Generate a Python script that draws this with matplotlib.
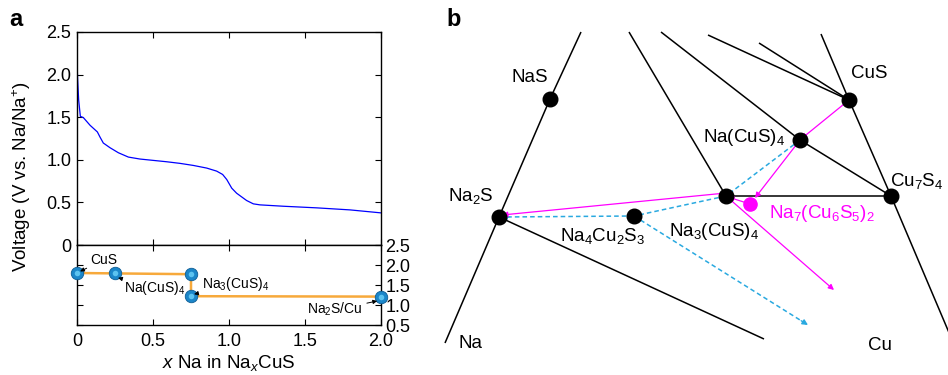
import numpy as np
import matplotlib
matplotlib.use("Agg")
import matplotlib.pyplot as plt

plt.rcParams['font.family'] = ['Liberation Sans', 'DejaVu Sans']
plt.rcParams['mathtext.fontset'] = 'custom'
plt.rcParams['mathtext.rm'] = 'Liberation Sans'
plt.rcParams['mathtext.it'] = 'Liberation Sans:italic'

# ---- panel a data ----
x_curve = [0, 0.004, 0.011, 0.022, 0.042, 0.086, 0.134, 0.151, 0.173, 0.217, 0.272,
           0.338, 0.414, 0.502, 0.59, 0.678, 0.765, 0.853, 0.919, 0.958, 0.985,
           1.018, 1.05, 1.116, 1.16, 1.204, 1.357, 1.577, 1.796, 2.0]
v_curve = [2.15, 1.95, 1.70, 1.51, 1.495, 1.405, 1.327, 1.268, 1.197, 1.142, 1.083,
           1.032, 1.009, 0.993, 0.977, 0.958, 0.934, 0.903, 0.867, 0.828, 0.769,
           0.667, 0.608, 0.522, 0.483, 0.471, 0.455, 0.436, 0.412, 0.377]

x_hull = [0, 0.25, 0.75, 0.75, 2.0]
v_hull = [1.80, 1.79, 1.77, 1.22, 1.21]

hull_labels = [r'CuS', r'Na(CuS)$_4$', r'Na$_3$(CuS)$_4$', r'Na$_2$S/Cu']
hull_label_xy = [(0.09, 2.13), (0.31, 1.43), (0.82, 1.52), (1.88, 0.88)]
hull_arrow_tip = [(0.02, 1.84), (0.27, 1.68), (0.77, 1.27), (1.975, 1.10)]
hull_label_ha = ['left', 'left', 'left', 'right']

# ---- panel b data (projected diagram coordinates) ----
node_names = ['NaS', 'CuS', 'NaCuS4', 'Na3CuS4', 'Cu7S4', 'Na2S', 'Na4Cu2S3']
node_x = [550, 849, 800, 726, 891, 499, 634]
node_y = [99, 100, 140, 196, 196, 217, 216]
na7_x, na7_y = 750, 204

# black tie lines: polylines
black_lines = [
    ([445, 499, 550, 581], [343, 217, 99, 32]),
    ([629, 726], [32, 196]),
    ([661, 800, 891], [32, 140, 196]),
    ([708, 849], [35, 100]),
    ([759, 849], [43, 100]),
    ([821, 849, 891, 950], [34, 100, 196, 335]),
    ([726, 891], [196, 196]),
    ([499, 764], [217, 339]),
]
# blue dashed paths (start, end, arrow?)
blue_x = [(800, 726), (726, 634), (634, 501), (634, 808)]
blue_y = [(140, 196), (196, 216), (216, 217), (216, 325)]
blue_arrow = [True, False, True, True]
# magenta paths
mag_x = [(849, 801), (800, 755), (750, 728), (726, 502), (726, 834)]
mag_y = [(100, 139), (140, 198), (204, 197), (193, 215), (196, 290)]

label_text = ['NaS', 'CuS', r'Na(CuS)$_4$', r'Cu$_7$S$_4$', r'Na$_2$S',
              r'Na$_4$Cu$_2$S$_3$', r'Na$_3$(CuS)$_4$', 'Na', 'Cu']
label_x = [530, 869, 744, 917, 471, 603, 714, 470, 880]
label_y = [77, 73, 137, 181, 196, 236, 231, 344, 346]

fig = plt.figure(figsize=(9.48, 3.75), dpi=100)
W, H = 948, 375

def ax_rect(x0, y0, x1, y1):
    return [x0 / W, 1 - y1 / H, (x1 - x0) / W, (y1 - y0) / H]

# top axes
ax1 = fig.add_axes(ax_rect(77, 32, 381, 245))
ax1.plot(x_curve, v_curve, color='#0000ff', lw=0.9)
ax1.set_xlim(0, 2.0)
ax1.set_ylim(0, 2.5)
ax1.set_yticks([0, 0.5, 1.0, 1.5, 2.0, 2.5])
ax1.set_yticklabels(['0', '0.5', '1.0', '1.5', '2.0', '2.5'])
ax1.set_xticks([0, 0.5, 1.0, 1.5, 2.0])
ax1.tick_params(direction='in', top=True, right=True, labelbottom=False,
                labelsize=13, length=4, width=0.8, pad=4)

# bottom axes
ax2 = fig.add_axes(ax_rect(77, 245, 381, 325))
ax2.plot(x_hull, v_hull, color='#f7a93b', lw=1.8, zorder=2)
ax2.plot(x_hull, v_hull, 'o', ms=9, mfc='#1b86c9', mec='#0d5c94', mew=0.6,
         zorder=3, clip_on=False)
ax2.plot(x_hull, v_hull, 'o', ms=4, mfc='#5cc3f0', mec='none', zorder=4, clip_on=False)
ax2.set_xlim(0, 2.0)
ax2.set_ylim(0.5, 2.5)
ax2.set_xticks([0, 0.5, 1.0, 1.5, 2.0])
ax2.set_xticklabels(['0', '0.5', '1.0', '1.5', '2.0'])
ax2.set_yticks([0.5, 1.0, 1.5, 2.0, 2.5])
ax2.set_yticklabels(['0.5', '1.0', '1.5', '2.0', '2.5'])
ax2.tick_params(direction='in', top=True, right=True, left=True,
                labelleft=False, labelright=True, labelsize=13, length=4, width=0.8)
ax2.tick_params(axis='y', pad=3)
ax2.tick_params(axis='x', pad=6)
for txt, (tx, ty), (px, py), ha in zip(hull_labels, hull_label_xy, hull_arrow_tip, hull_label_ha):
    ax2.annotate(txt, xy=(px, py), xytext=(tx, ty), fontsize=10, ha=ha, va='center',
                 arrowprops=dict(arrowstyle='-|>', color='black', lw=0.7,
                                 mutation_scale=6, shrinkA=1, shrinkB=0),
                 zorder=5)
ax2.set_xlabel(r'$\it{x}$ Na in Na$_{\it{x}}$CuS', fontsize=13.5, labelpad=2)

for ax in (ax1, ax2):
    for s in ax.spines.values():
        s.set_linewidth(1.0)

fig.text(22 / W, 1 - 177 / H, r'Voltage (V vs. Na/Na$^{+}$)', rotation=90,
         ha='center', va='center', fontsize=13.5)
fig.text(9 / W, 1 - 20 / H, 'a', fontsize=17, fontweight='bold', va='center')
fig.text(446 / W, 1 - 20 / H, 'b', fontsize=17, fontweight='bold', va='center')

# panel b
axb = fig.add_axes(ax_rect(430, 0, 948, 375))
axb.set_xlim(430, 948)
axb.set_ylim(375, 0)
axb.axis('off')

for lx, ly in black_lines:
    axb.plot(lx, ly, color='black', lw=1.1, zorder=1, solid_capstyle='butt')

for (x0, x1), (y0, y1), arr in zip(blue_x, blue_y, blue_arrow):
    axb.plot([x0, x1], [y0, y1], color='#29a9e0', lw=1.1, ls=(0, (3, 2)), zorder=2)
    if arr:
        d = np.array([x1 - x0, y1 - y0], dtype=float)
        d /= np.hypot(*d)
        axb.annotate('', xy=(x1, y1), xytext=(x1 - 8 * d[0], y1 - 8 * d[1]),
                     arrowprops=dict(arrowstyle='-|>', color='#29a9e0', lw=1.0,
                                     mutation_scale=8, shrinkA=0, shrinkB=0), zorder=2)

for (x0, x1), (y0, y1) in zip(mag_x, mag_y):
    axb.annotate('', xy=(x1, y1), xytext=(x0, y0),
                 arrowprops=dict(arrowstyle='-|>', color='#ff00ff', lw=0.9,
                                 mutation_scale=8, shrinkA=0, shrinkB=0), zorder=3)

axb.plot(node_x, node_y, 'o', color='black', ms=10.5, zorder=4)
axb.plot([na7_x], [na7_y], 'o', color='#ff00ff', ms=9.5, zorder=4)

for t, tx, ty in zip(label_text, label_x, label_y):
    axb.text(tx, ty, t, ha='center', va='center', fontsize=13.5)
axb.text(822, 213, r'Na$_7$(Cu$_6$S$_5$)$_2$', ha='center', va='center',
         fontsize=13.5, color='#ff00ff')

fig.savefig('out.png', dpi=100)
